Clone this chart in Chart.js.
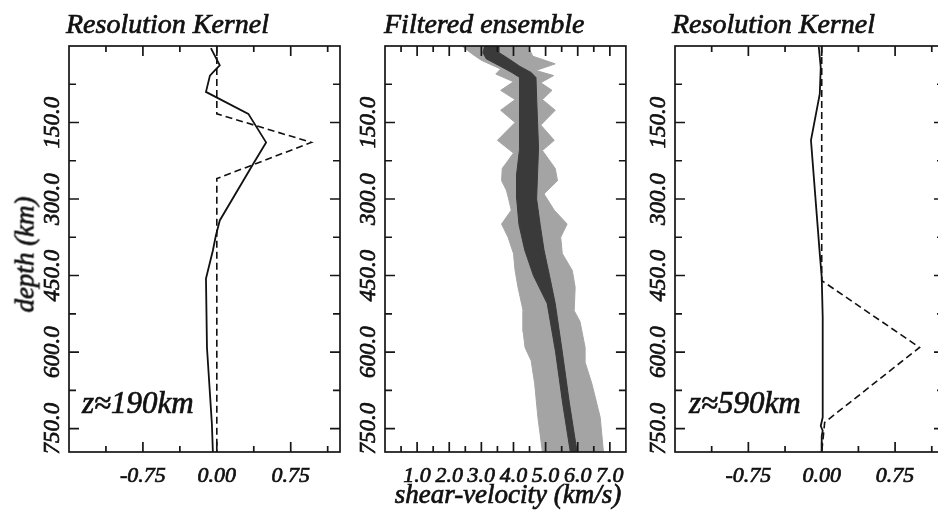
<!DOCTYPE html>
<html>
<head>
<meta charset="utf-8">
<script src="https://cdn.jsdelivr.net/npm/chart.js@4.4.1/dist/chart.umd.min.js"></script>
<style>
html,body{margin:0;padding:0;background:#fff;}
body{width:938px;height:517px;overflow:hidden;position:relative;}
.box{position:absolute;top:0;height:517px;}
.txt{position:absolute;font-family:"Liberation Serif","Times New Roman",serif;font-style:italic;color:#111;white-space:nowrap;line-height:1;-webkit-text-stroke:0.7px #111;}
</style>
</head>
<body>
<div class="box" style="left:0;width:345px"><canvas id="k1"></canvas></div>
<div class="box" style="left:345px;width:290px"><canvas id="ens"></canvas></div>
<div class="box" style="left:635px;width:320px"><canvas id="k2"></canvas></div>

<div class="txt" style="left:66px;top:10px;font-size:28px">Resolution Kernel</div>
<div class="txt" style="left:384px;top:10px;font-size:28px">Filtered ensemble</div>
<div class="txt" style="left:672px;top:10px;font-size:28px">Resolution Kernel</div>
<div class="txt" style="left:-75px;top:241px;width:200px;text-align:center;font-size:27px;transform:rotate(-90deg);transform-origin:50% 50%">depth (km)</div>
<div class="txt" style="left:308px;top:481px;width:400px;text-align:center;font-size:27px">shear-velocity (km/s)</div>
<div class="txt" style="left:82px;top:387px;font-size:31px">z≈190km</div>
<div class="txt" style="left:689px;top:387px;font-size:31px">z≈590km</div>

<script>
// ---------- axis ticks ----------
const depthLabelValues = [150, 300, 450, 600, 750];
const depthMinorValues = [75, 225, 375, 525, 675];
const kernelLabelValues = [-0.75, 0.00, 0.75];
const kernelMinorValues = [-1.125, -0.375, 0.375, 1.125];
const velocityLabelValues = [1, 2, 3, 4, 5, 6, 7];
const velocityMinorValues = [0.5, 1.5, 2.5, 3.5, 4.5, 5.5, 6.5];

// ---------- resolution kernel, z ~ 190 km ----------
const k190SolidDepth = [4, 38, 48, 58, 90, 133, 189, 231, 342, 372, 401, 456, 591, 741, 796];
const k190SolidValue = [-0.06, 0.03, -0.02, -0.07, -0.11, 0.32, 0.50, 0.37, 0.03, -0.01, -0.04, -0.11, -0.10, -0.05, -0.04];
const k190TargetDepth = [0, 133, 189, 260, 796];
const k190TargetValue = [0, 0, 0.96, 0, 0];

// ---------- resolution kernel, z ~ 590 km ----------
const k590SolidDepth = [2, 42, 94, 185, 407, 453, 532, 728, 745, 754, 765, 796];
const k590SolidValue = [-0.03, -0.01, -0.02, -0.11, -0.02, 0.00, 0.01, 0.01, -0.01, 0.01, 0.00, 0.00];
const k590TargetDepth = [0, 460, 591, 738, 796];
const k590TargetValue = [0, 0, 1.00, 0.03, 0];

// ---------- filtered ensemble (shear velocity, km/s) ----------
const envLeftDepth = [0, 15, 28, 45, 55, 70, 87, 105, 126, 150, 185, 210, 240, 264, 283, 300, 322, 349, 375, 407, 440, 473, 519, 560, 591, 617, 662, 728, 796];
const envLeftVel   = [2.4, 2.7, 3.0, 3.6, 3.45, 4.0, 3.6, 4.05, 3.6, 4.05, 3.5, 4.0, 3.65, 3.63, 3.78, 3.85, 3.93, 3.63, 3.83, 4.0, 4.05, 4.14, 4.3, 4.3, 4.36, 4.55, 4.66, 4.76, 4.9];
const envRightDepth = [0, 20, 35, 48, 58, 72, 87, 105, 126, 155, 185, 205, 240, 264, 290, 322, 349, 375, 407, 440, 473, 519, 540, 591, 620, 662, 728, 796];
const envRightVel   = [4.45, 4.6, 5.3, 4.7, 5.25, 4.85, 5.2, 4.9, 5.3, 4.85, 5.27, 4.9, 5.3, 5.37, 4.95, 5.27, 5.67, 5.47, 5.52, 5.83, 5.92, 5.89, 6.07, 6.23, 6.23, 6.44, 6.7, 6.8];
const coreDepth = [0, 13, 25, 40, 52, 62, 100, 150, 200, 250, 300, 350, 400, 450, 505, 600, 700, 796];
const coreLeft  = [3.1, 3.05, 3.15, 3.6, 3.95, 4.2, 4.2, 4.2, 4.18, 4.1, 4.1, 4.17, 4.35, 4.62, 5.05, 5.31, 5.53, 5.77];
const coreRight = [3.55, 3.55, 3.85, 4.2, 4.55, 4.7, 4.72, 4.75, 4.78, 4.75, 4.72, 4.83, 4.95, 5.12, 5.3, 5.52, 5.74, 5.98];

const DEPTH_MAX = 796;
const FONT = '"Liberation Serif","Times New Roman",serif';

function pts(xs, ys) { return xs.map((v, i) => ({x: v, y: ys[i]})); }
function polygon(dl, vl, dr, vr) {
  const left = vl.map((v, i) => ({x: v, y: dl[i]}));
  const right = vr.map((v, i) => ({x: v, y: dr[i]})).reverse();
  return left.concat(right, [left[0]]);
}

const framePlugin = {
  id: 'frame',
  afterDatasetsDraw(chart, args, o) {
    const {ctx, chartArea: a} = chart;
    const sx = chart.scales.x, sy = chart.scales.y;
    ctx.save();
    ctx.strokeStyle = '#161616';
    ctx.lineWidth = 1.7;
    ctx.beginPath();
    const xt = (v, len) => { const p = sx.getPixelForValue(v); ctx.moveTo(p, a.bottom); ctx.lineTo(p, a.bottom - len); ctx.moveTo(p, a.top); ctx.lineTo(p, a.top + len); };
    const yt = (v, len) => { const p = sy.getPixelForValue(v); ctx.moveTo(a.left, p); ctx.lineTo(a.left + len, p); ctx.moveTo(a.right, p); ctx.lineTo(a.right - len, p); };
    o.xMajor.forEach(v => xt(v, 10));
    o.xMinor.forEach(v => xt(v, 6));
    o.yMajor.forEach(v => yt(v, 10));
    o.yMinor.forEach(v => yt(v, 7));
    ctx.stroke();
    ctx.strokeRect(a.left, a.top, a.right - a.left, a.bottom - a.top);
    ctx.fillStyle = '#111';
    ctx.strokeStyle = '#111';
    ctx.lineWidth = 0.7;
    ctx.font = 'italic 23px ' + FONT;
    ctx.textAlign = 'center';
    ctx.textBaseline = 'alphabetic';
    o.yMajor.forEach(v => {
      const p = sy.getPixelForValue(v);
      ctx.save();
      ctx.translate(a.left - 10, p);
      ctx.rotate(-Math.PI / 2);
      ctx.fillText(v.toFixed(1), 0, 0);
      ctx.strokeText(v.toFixed(1), 0, 0);
      ctx.restore();
    });
    ctx.restore();
  }
};

function makeChart(id, datasets, xMin, xMax, xMajor, xMinor, xFmt, yWidth, padRight) {
  return new Chart(document.getElementById(id), {
    type: 'scatter',
    data: {datasets},
    options: {
      animation: false,
      responsive: true,
      maintainAspectRatio: false,
      layout: {padding: {left: 0, top: 46, right: padRight, bottom: 0}},
      plugins: {
        legend: {display: false},
        tooltip: {enabled: false},
        frame: {xMajor, xMinor, yMajor: depthLabelValues, yMinor: depthMinorValues}
      },
      elements: {point: {radius: 0, hoverRadius: 0}},
      scales: {
        x: {
          type: 'linear', position: 'bottom', min: xMin, max: xMax,
          grid: {display: false, drawTicks: false}, border: {display: false},
          afterBuildTicks: s => { s.ticks = xMajor.map(v => ({value: v})); },
          afterFit: s => { s.height = 65; },
          ticks: {autoSkip: false, maxRotation: 0, minRotation: 0, padding: 11, color: '#111',
                  textStrokeColor: '#111', textStrokeWidth: 0.7,
                  font: {family: FONT, style: 'italic', size: 22}, callback: v => xFmt(v)}
        },
        y: {
          type: 'linear', position: 'left', min: 0, max: DEPTH_MAX, reverse: true,
          grid: {display: false, drawTicks: false}, border: {display: false},
          ticks: {display: false},
          afterFit: s => { s.width = yWidth; }
        }
      }
    },
    plugins: [framePlugin]
  });
}

const lineStyle = {showLine: true, borderColor: '#111', borderWidth: 1.8, pointRadius: 0, fill: false, tension: 0};

makeChart('k1', [
  Object.assign({label: 'kernel', data: pts(k190SolidValue, k190SolidDepth)}, lineStyle),
  Object.assign({label: 'target', data: pts(k190TargetValue, k190TargetDepth)}, lineStyle, {borderDash: [7, 4], borderWidth: 1.6})
], -1.5, 1.25, kernelLabelValues, kernelMinorValues, v => v.toFixed(2), 69, 5);

makeChart('ens', [
  {label: 'core', data: polygon(coreDepth, coreLeft, coreDepth, coreRight), showLine: true,
   borderColor: '#3a3a3a', borderWidth: 1, backgroundColor: '#3a3a3a', fill: 'shape', pointRadius: 0},
  {label: 'ensemble', data: polygon(envLeftDepth, envLeftVel, envRightDepth, envRightVel), showLine: true,
   borderColor: '#a4a4a4', borderWidth: 1, backgroundColor: '#a4a4a4', fill: 'shape', pointRadius: 0}
], 0, 7.5, velocityLabelValues, velocityMinorValues, v => v.toFixed(1), 40, 6);

makeChart('k2', [
  Object.assign({label: 'kernel', data: pts(k590SolidValue, k590SolidDepth)}, lineStyle),
  Object.assign({label: 'target', data: pts(k590TargetValue, k590TargetDepth)}, lineStyle, {borderDash: [7, 4], borderWidth: 1.6})
], -1.5, 1.25, kernelLabelValues, kernelMinorValues, v => v.toFixed(2), 40, 11);
</script>
</body>
</html>
